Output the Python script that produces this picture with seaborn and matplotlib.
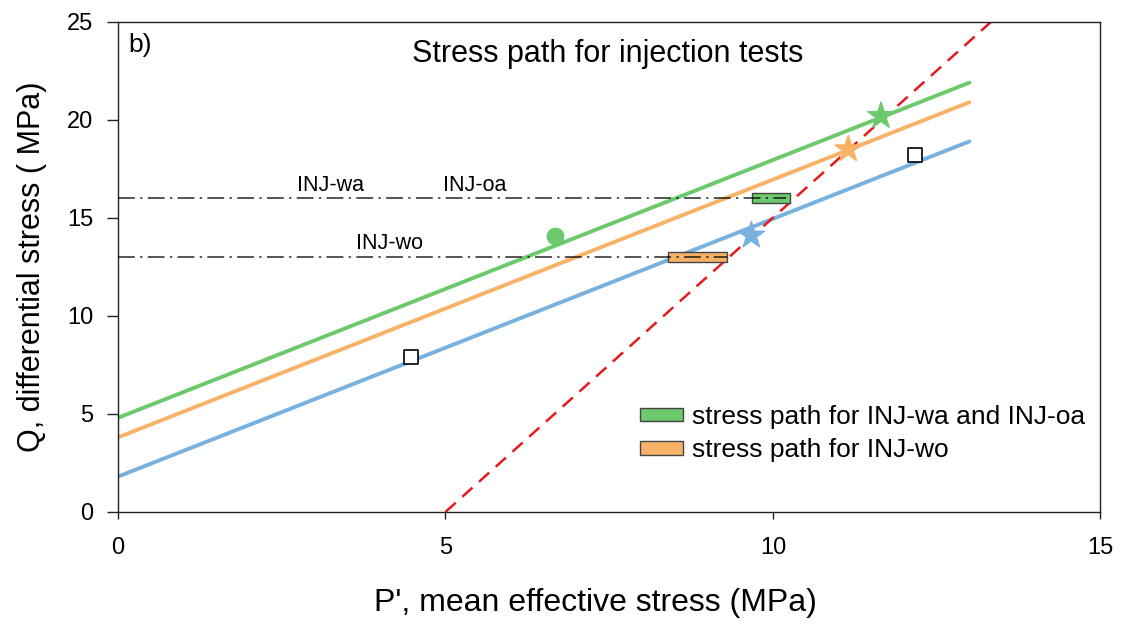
import numpy as np
import pandas as pd
import matplotlib.pyplot as plt
import matplotlib.patches as mpatches
import seaborn as sns

# ── DATA ─────────────────────────────────────────────────────────────────────
p_ends = [0, 13]
q_green = [4.8, 21.9]
q_orange = [3.8, 20.9]
q_blue = [1.8, 18.9]
p_fail = [5, 13.33]
q_fail = [0, 25]

hline_q = [16, 13]
hline_pmax = [10.2, 9.3]

square_p = [4.47, 12.17]
square_q = [7.9, 18.2]
circle_p = [6.67]
circle_q = [14.1]
star_p = [11.65, 11.15, 9.67]
star_q = [20.2, 18.5, 14.1]

path_green = (9.68, 10.26, 16.0)   # p start, p end, q
path_orange = (8.4, 9.3, 13.0)

labels_txt = ["INJ-wa", "INJ-oa", "INJ-wo"]
labels_p = [3.25, 5.45, 4.15]
labels_q = [16.65, 16.65, 13.7]

GREEN = "#6cc96c"
ORANGE = "#f7b267"
BLUE = "#78b0de"
RED = "#e41a1c"

sns.set_style("ticks", {"text.color": "black", "axes.labelcolor": "black",
                        "xtick.color": "black", "ytick.color": "black",
                        "axes.edgecolor": "#222222"})
plt.rcParams["font.family"] = ["Liberation Sans", "DejaVu Sans"]

fig = plt.figure(figsize=(11.24, 6.25), dpi=100)
ax = fig.add_axes([0.105, 0.181, 0.874, 0.784])

lines = pd.DataFrame({
    "P": p_ends * 3,
    "Q": q_green + q_orange + q_blue,
    "grp": ["g"] * 2 + ["o"] * 2 + ["b"] * 2,
})
sns.lineplot(data=lines, x="P", y="Q", hue="grp",
             palette={"g": GREEN, "o": ORANGE, "b": BLUE},
             linewidth=2.8, legend=False, ax=ax)
sns.lineplot(x=p_fail, y=q_fail, color=RED, linestyle=(0, (5.5, 3.5)),
             linewidth=1.8, ax=ax)

for (p0, p1, q), col in [(path_green, GREEN), (path_orange, ORANGE)]:
    ax.add_patch(mpatches.Rectangle((p0, q - 0.25), p1 - p0, 0.5,
                                    facecolor=col, edgecolor="#444444",
                                    linewidth=1, zorder=4))

for q, pmax in zip(hline_q, hline_pmax):
    ax.plot([0, pmax], [q, q], color="black", linewidth=1.1,
            linestyle=(0, (11, 3.5, 1.5, 3.5)), zorder=5, alpha=0.85)

ax.scatter(square_p, square_q, marker="s", s=110, facecolor="white",
           edgecolor="black", linewidth=1.2, zorder=3)
ax.scatter(circle_p, circle_q, marker="o", s=140, color=GREEN, zorder=3)
ax.scatter(star_p, star_q, marker="*", s=400,
           color=[GREEN, ORANGE, BLUE], zorder=6)

for t, p, q in zip(labels_txt, labels_p, labels_q):
    ax.text(p, q, t, fontsize=15.5, ha="center", va="center")

ax.text(0.01, 0.953, "b)", transform=ax.transAxes, fontsize=19,
        ha="left", va="center")
ax.text(0.498, 0.935, "Stress path for injection tests", transform=ax.transAxes,
        fontsize=22, ha="center", va="center")

handles = [mpatches.Patch(facecolor=GREEN, edgecolor="#444444",
                          label="stress path for INJ-wa and INJ-oa"),
           mpatches.Patch(facecolor=ORANGE, edgecolor="#444444",
                          label="stress path for INJ-wo")]
ax.legend(handles=handles, loc="lower right", bbox_to_anchor=(0.995, 0.08),
          borderaxespad=0, frameon=False, fontsize=19, handlelength=1.6,
          handleheight=0.42, handletextpad=0.35, labelspacing=0.35)

ax.set_xlim(0, 15)
ax.set_ylim(0, 25)
ax.set_xticks([0, 5, 10, 15])
ax.set_yticks(range(0, 26, 5))
ax.tick_params(labelsize=17, width=1, color="#222222")
ax.tick_params(axis="x", length=5, pad=13)
ax.tick_params(axis="y", length=8, pad=10)
ax.set_xlabel("P', mean effective stress (MPa)", fontsize=23, labelpad=16)
ax.set_ylabel("Q, differential stress ( MPa)", fontsize=22, labelpad=14)
ax.xaxis.set_label_coords(0.486, -0.155)
for s in ax.spines.values():
    s.set_visible(True)
    s.set_linewidth(1)

fig.savefig("out.png", dpi=100)
